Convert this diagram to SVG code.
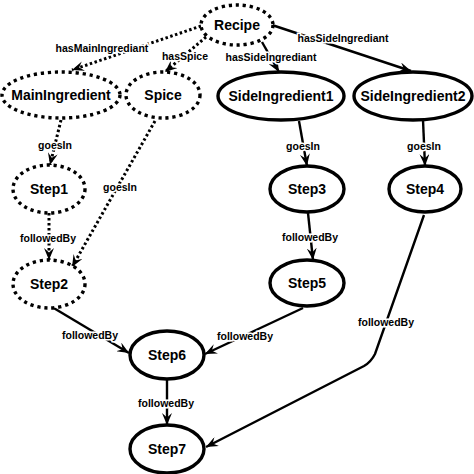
<svg xmlns="http://www.w3.org/2000/svg" width="474" height="474" viewBox="0 0 474 474">
<style>
.node ellipse{fill:#fff;stroke:#000;stroke-width:3.4}
.dot ellipse{stroke-dasharray:3.2 3.8}
.node text{font-family:"Liberation Sans",Arial,sans-serif;font-weight:bold;font-size:14px;text-anchor:middle}
.edges path{fill:none;stroke:#000;stroke-width:2.4;marker-end:url(#arr)}
.edges path.d{stroke-width:3;stroke-dasharray:2.5 2.5}
.lbl text{font-family:"Liberation Sans",Arial,sans-serif;font-weight:bold;font-size:10.5px;text-anchor:middle;stroke:#fff;stroke-width:3;paint-order:stroke;fill:#000}
</style>
<defs>
<marker id="arr" markerUnits="userSpaceOnUse" markerWidth="12" markerHeight="10" viewBox="0 0 12 10" refX="12" refY="5" orient="auto">
<path d="M0,0 L12,5 L0,10 L4.5,5 z" fill="#000"/>
</marker>
</defs>
<rect width="474" height="474" fill="#fff"/>
<g id="connectors" class="edges">
<path class="d" d="M201,26 L72,70"/>
<path class="d" d="M206,37 L165,72"/>
<path d="M262,42 L279,72"/>
<path d="M272,25 L411,71"/>
<path class="d" d="M61,120 L50,165"/>
<path class="d" d="M155,121 L72,267"/>
<path class="d" d="M49,213 L49,260"/>
<path d="M299,121 L307,166"/>
<path d="M423,120 L425,166"/>
<path d="M308,213 L313,260"/>
<path d="M52,307 L129,353"/>
<path d="M303,308 L205,354"/>
<path d="M167,379 L167,425"/>
<path d="M424,215 L375,354 Q371,362 364,366 L206,447"/>
</g>
<g class="lbl">
<text x="102" y="52">hasMainIngrediant</text>
<text x="185" y="60">hasSpice</text>
<text x="271" y="61">hasSideIngrediant</text>
<text x="343" y="42">hasSideIngrediant</text>
<text x="55" y="149">goesIn</text>
<text x="120" y="191">goesIn</text>
<text x="48" y="242">followedBy</text>
<text x="303" y="150">goesIn</text>
<text x="424" y="150">goesIn</text>
<text x="310" y="241">followedBy</text>
<text x="90" y="339">followedBy</text>
<text x="245" y="340">followedBy</text>
<text x="166" y="407">followedBy</text>
<text x="386" y="326">followedBy</text>
</g>
<g id="Recipe" class="node dot"><ellipse cx="237" cy="25" rx="36" ry="20"/><text x="237" y="30">Recipe</text></g>
<g id="MainIngredient" class="node dot"><ellipse cx="61" cy="95" rx="59" ry="23"/><text x="61" y="100">MainIngredient</text></g>
<g id="Spice" class="node dot"><ellipse cx="163" cy="95" rx="37" ry="23"/><text x="163" y="100">Spice</text></g>
<g id="SideIngredient1" class="node"><ellipse cx="281" cy="96" rx="63" ry="24"/><text x="281" y="101">SideIngredient1</text></g>
<g id="SideIngredient2" class="node"><ellipse cx="413" cy="96" rx="59" ry="24"/><text x="413" y="101">SideIngredient2</text></g>
<g id="Step1" class="node dot"><ellipse cx="49" cy="189" rx="36" ry="24"/><text x="49" y="194">Step1</text></g>
<g id="Step2" class="node dot"><ellipse cx="49" cy="284" rx="36" ry="24"/><text x="49" y="289">Step2</text></g>
<g id="Step3" class="node"><ellipse cx="307" cy="189" rx="37" ry="23"/><text x="307" y="194">Step3</text></g>
<g id="Step4" class="node"><ellipse cx="425" cy="189" rx="36" ry="23"/><text x="425" y="194">Step4</text></g>
<g id="Step5" class="node"><ellipse cx="307" cy="283" rx="37" ry="23"/><text x="307" y="288">Step5</text></g>
<g id="Step6" class="node"><ellipse cx="167" cy="355" rx="37" ry="24"/><text x="167" y="360">Step6</text></g>
<g id="Step7" class="node"><ellipse cx="167" cy="449" rx="37" ry="24"/><text x="167" y="454">Step7</text></g>
</svg>
